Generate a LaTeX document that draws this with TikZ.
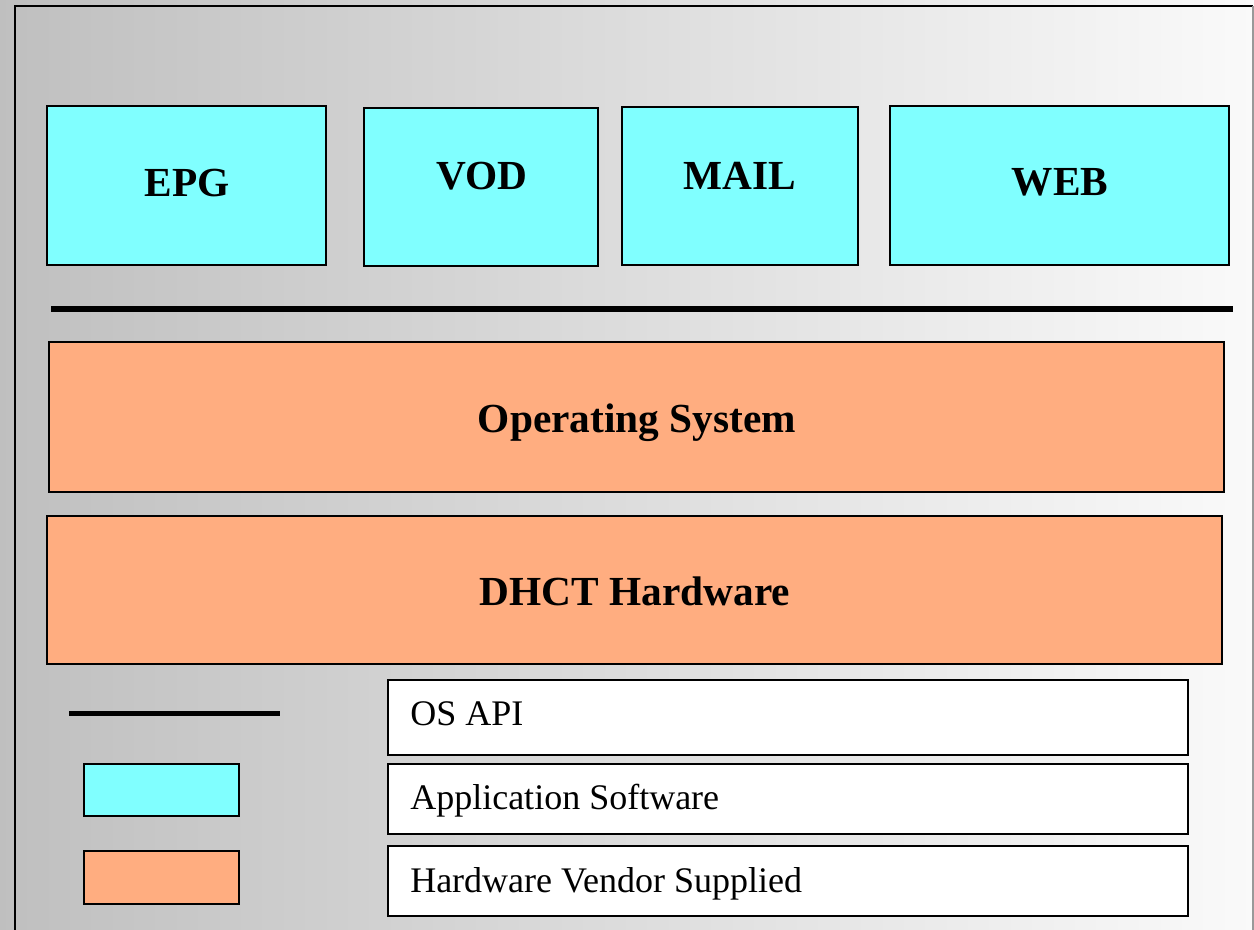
\documentclass[tikz,border=0pt]{standalone}
\usepackage{fontspec}
\setmainfont{Liberation Serif}
\usepackage{tikz}
\usepackage{xcolor}
\usetikzlibrary{positioning}
\definecolor{appcyan}{HTML}{80FFFF}
\definecolor{hwpeach}{HTML}{FFAD80}
\tikzset{
  % An application box on top of the stack
  appbox/.style={draw=black, fill=appcyan, line width=1.8pt, inner sep=0pt, outer sep=0pt},
  % A layer supplied by the hardware vendor
  hwbox/.style={draw=black, fill=hwpeach, line width=1.8pt, inner sep=0pt, outer sep=0pt},
  % A legend entry box
  keybox/.style={draw=black, fill=white, line width=1.8pt, inner sep=0pt, outer sep=0pt},
  % Texts
  title/.style={font=\fontsize{31}{35}\selectfont\bfseries, inner sep=0pt, anchor=base},
  keytxt/.style={font=\fontsize{27}{30}\selectfont, inner sep=0pt, anchor=base west},
  % The API line
  apiline/.style={draw=black, line width=4.5pt},
}
\newcommand{\layerbox}[6]{%
  \node[#1, minimum width={(#5-#3)*0.75pt}, minimum height={(#6-#4)*0.75pt}]
        (#2) at ({(#3+#5)/2},{(#4+#6)/2}) {};}

\begin{document}
\begin{tikzpicture}[x=0.75pt, y=-0.75pt]

  \useasboundingbox (0,0) rectangle (1254,929);
  \shade[left color=black!25, right color=black!2] (0,0) rectangle (1254,929);
  \draw[black, line width=1.5pt] (15,935) -- (15,6) -- (1253,6);
  \draw[black!40, line width=1.5pt] (1253,6) -- (1253,935);

  \layerbox{appbox}{epg}{47}{106}{326}{265}
  \layerbox{appbox}{vod}{364}{108}{598}{266}
  \layerbox{appbox}{mail}{622}{107}{858}{265}
  \layerbox{appbox}{web}{890}{106}{1229}{265}
  \node[title] (epgtxt) at (187,196) {EPG};
  \node[title] (vodtxt) at (482,189) {VOD};
  \node[title] (mailtxt) at (740,189) {MAIL};
  \node[title] (webtxt) at (1060,195) {WEB};

  \draw[apiline] (51,309) -- (1233,309);

  \layerbox{hwbox}{os}{49}{342}{1224}{492}
  \layerbox{hwbox}{dhct}{47}{516}{1222}{664}
  \node[title] (ostxt) at (637,432) {Operating System};
  \node[title] (dhcttxt) at (635,605) {DHCT Hardware};

  % legend
  \draw[apiline, line width=3.75pt] (69,713) -- (280,713);
  \layerbox{appbox}{keyapp}{84}{764}{239}{816}
  \layerbox{hwbox}{keyhw}{84}{851}{239}{904}
  \layerbox{keybox}{api}{388}{680}{1188}{755}
  \layerbox{keybox}{appsw}{388}{764}{1188}{834}
  \layerbox{keybox}{vendor}{388}{846}{1188}{916}
  \node[keytxt] (apitxt) at (410,725) {OS API};
  \node[keytxt] (appswtxt) at (410,809) {Application Software};
  \node[keytxt] (vendortxt) at (410,892) {Hardware Vendor Supplied};

\end{tikzpicture}
\end{document}
